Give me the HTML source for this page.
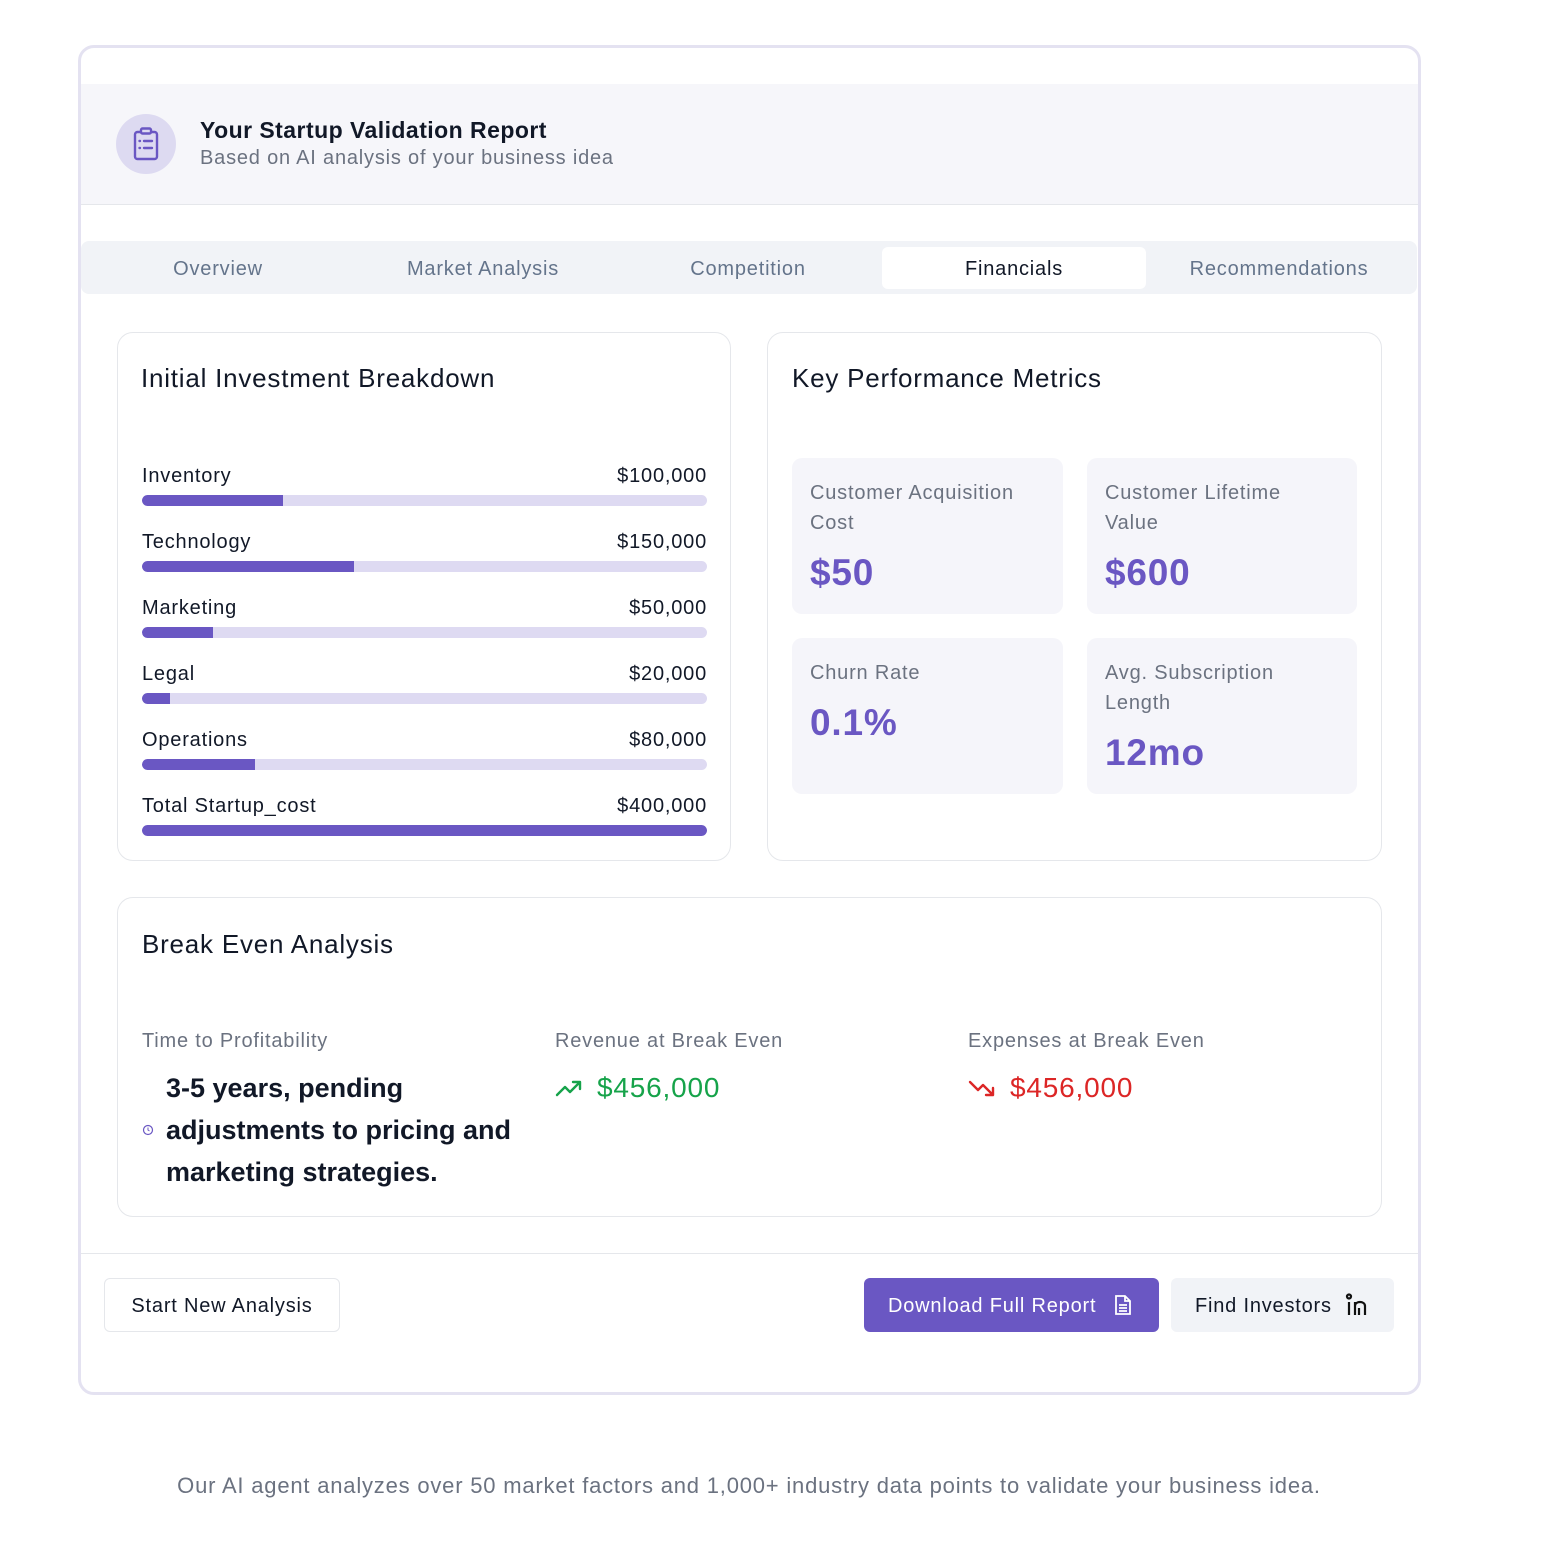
<!DOCTYPE html>
<html><head><meta charset="utf-8">
<style>
*{box-sizing:border-box;margin:0;padding:0}
body{width:1544px;height:1546px;background:#fff;font-family:"Liberation Sans",sans-serif;position:relative;overflow:hidden;color:#111827;letter-spacing:0.05em}
.a{position:absolute}
.card{position:absolute;border:1px solid #e5e7eb;border-radius:16px;background:#fff}
.gray{color:#6b7280}
.mbox{position:absolute;background:#f5f5fa;border-radius:10px}
.mlab{position:absolute;left:18px;top:20px;font-size:20px;line-height:30px;color:#6b7280;width:215px}
.mval{position:absolute;left:18px;font-size:37px;font-weight:bold;color:#6a57c3}
.row{position:absolute;left:24px;width:565px}
.row .l{position:absolute;left:0;top:2px;font-size:20px}
.row .v{position:absolute;right:0;top:2px;font-size:20px}
.track{position:absolute;left:0;top:32px;width:565px;height:11px;border-radius:6px;background:#dedaf2;overflow:hidden}
.fill{height:11px;background:#6a57c3;border-radius:6px 0 0 6px}
.tab{position:absolute;top:0;height:56px;line-height:56px;text-align:center;font-size:20px;color:#64748b;width:264px}
</style></head><body>
<div class="a" style="left:78px;top:45px;width:1343px;height:1350px;border:3px solid #e4e2f1;border-radius:16px;background:#fff"></div>
<div class="a" style="left:81px;top:84px;width:1337px;height:121px;background:#f6f6fa;border-bottom:1px solid #e5e7eb"></div>
<div class="a" style="left:116px;top:114px;width:60px;height:60px;border-radius:50%;background:#dddaf1">
<svg width="60" height="60" viewBox="0 0 60 60"><g fill="none" stroke="#6a57c3" stroke-width="2.4" stroke-linecap="round"><rect x="19" y="18" width="22" height="27" rx="2.5"/><rect x="25" y="14.5" width="10" height="5" rx="1.5" fill="#dddaf1"/><line x1="23.5" y1="27" x2="24" y2="27"/><line x1="28" y1="27" x2="36" y2="27"/><line x1="23.5" y1="34" x2="24" y2="34"/><line x1="28" y1="34" x2="36" y2="34"/></g></svg></div>
<div class="a" style="left:200px;top:117px;font-size:23px;font-weight:bold;color:#111827;letter-spacing:0.02em">Your Startup Validation Report</div>
<div class="a gray" style="left:200px;top:147px;font-size:20px">Based on AI analysis of your business idea</div>

<div class="a" style="left:81px;top:241px;width:1336px;height:53px;background:#f1f3f7;border-radius:8px">
<div class="a" style="left:801px;top:6px;width:264px;height:42px;background:#fff;border-radius:6px"></div>
<div class="tab" style="left:5px">Overview</div>
<div class="tab" style="left:270px">Market Analysis</div>
<div class="tab" style="left:535px">Competition</div>
<div class="tab" style="left:801px;color:#111827">Financials</div>
<div class="tab" style="left:1066px">Recommendations</div>
</div>

<div class="card" style="left:117px;top:332px;width:614px;height:529px">
<div class="a" style="left:23px;top:30px;font-size:26px;letter-spacing:0.03em">Initial Investment Breakdown</div>
<div id="rows"></div>
</div>

<div class="card" style="left:767px;top:332px;width:615px;height:529px">
<div class="a" style="left:24px;top:30px;font-size:26px;letter-spacing:0.03em">Key Performance Metrics</div>
<div class="mbox" style="left:24px;top:125px;width:271px;height:156px"><div class="mlab">Customer Acquisition Cost</div><div class="mval" style="top:94px">$50</div></div>
<div class="mbox" style="left:319px;top:125px;width:270px;height:156px"><div class="mlab">Customer Lifetime Value</div><div class="mval" style="top:94px">$600</div></div>
<div class="mbox" style="left:24px;top:305px;width:271px;height:156px"><div class="mlab">Churn Rate</div><div class="mval" style="top:64px">0.1%</div></div>
<div class="mbox" style="left:319px;top:305px;width:270px;height:156px"><div class="mlab">Avg. Subscription Length</div><div class="mval" style="top:94px">12mo</div></div>
</div>

<div class="card" style="left:117px;top:897px;width:1265px;height:320px">
<div class="a" style="left:24px;top:31px;font-size:26px;letter-spacing:0.03em">Break Even Analysis</div>
<div class="a gray" style="left:24px;top:132px;font-size:20px">Time to Profitability</div>
<div class="a" style="left:24px;top:225px"><svg width="12" height="12"><circle cx="6" cy="6" r="4.5" fill="none" stroke="#6a57c3" stroke-width="1.2"/><path d="M6 3.5V6l1.5 1" stroke="#6a57c3" fill="none" stroke-width="1"/></svg></div>
<div class="a" style="left:48px;top:169px;font-size:27px;font-weight:bold;line-height:42px;width:360px;letter-spacing:0">3-5 years, pending adjustments to pricing and marketing strategies.</div>
<div class="a gray" style="left:437px;top:132px;font-size:20px">Revenue at Break Even</div>
<div class="a" style="left:437px;top:180px"><svg width="30" height="22"><path d="M2 17l8-8 5 5 10-10M18 4h7v7" fill="none" stroke="#16a34a" stroke-width="2.4" stroke-linecap="round" stroke-linejoin="round"/></svg></div>
<div class="a" style="left:479px;top:174px;font-size:28px;color:#16a34a">$456,000</div>
<div class="a gray" style="left:850px;top:132px;font-size:20px">Expenses at Break Even</div>
<div class="a" style="left:850px;top:180px"><svg width="30" height="22"><path d="M2 4l8 8 5-5 10 10M25 10v7h-7" fill="none" stroke="#dc2626" stroke-width="2.4" stroke-linecap="round" stroke-linejoin="round"/></svg></div>
<div class="a" style="left:892px;top:174px;font-size:28px;color:#dc2626">$456,000</div>
</div>

<div class="a" style="left:81px;top:1253px;width:1337px;height:1px;background:#e5e7eb"></div>
<div class="a" style="left:104px;top:1278px;width:236px;height:54px;border:1px solid #e5e7eb;border-radius:6px;line-height:54px;text-align:center;font-size:20px">Start New Analysis</div>
<div class="a" style="left:864px;top:1278px;width:295px;height:54px;background:#6a57c3;border-radius:6px;color:#fff;font-size:20px;line-height:56px;padding-left:24px">Download Full Report
<svg style="position:absolute;left:250px;top:16px" width="18" height="22"><path d="M2 2h9l5 5v13H2z M11 2v5h5 M5 11h8 M5 14h8 M5 17h8" fill="none" stroke="#fff" stroke-width="1.8"/></svg></div>
<div class="a" style="left:1171px;top:1278px;width:223px;height:54px;background:#f1f3f7;border-radius:6px;font-size:20px;line-height:56px;padding-left:24px">Find Investors
<svg style="position:absolute;left:174px;top:15px" width="26" height="24"><g fill="none" stroke="#111" stroke-width="2.2"><circle cx="4" cy="3.5" r="2"/><path d="M4 9v13M10 22V9M10 13c0-3 3-4 5-4s5 1 5 4v9M14 22v-7"/></g></svg></div>

<div class="a gray" style="left:0;width:1498px;top:1473px;text-align:center;font-size:22px">Our AI agent analyzes over 50 market factors and 1,000+ industry data points to validate your business idea.</div>

<script>
const categories=["Inventory","Technology","Marketing","Legal","Operations","Total Startup_cost"];
const amounts=[100000,150000,50000,20000,80000,400000];
const totalCost=400000;
const host=document.getElementById('rows');
categories.forEach((c,i)=>{
  const r=document.createElement('div');r.className='row';r.style.top=(130+i*66)+'px';
  
  
  r.innerHTML='<div class="l">'+c+'</div><div class="v">$'+amounts[i].toLocaleString('en-US')+'</div>';
  const t=document.createElement('div');t.className='track';
  
  
  const f=document.createElement('div');f.className='fill';
  
  
  f.style.width=(amounts[i]/totalCost*565)+'px';
  if(amounts[i]>=totalCost)f.style.borderRadius='6px';
  t.appendChild(f);r.appendChild(t);host.appendChild(r);
});
</script>
</body></html>
